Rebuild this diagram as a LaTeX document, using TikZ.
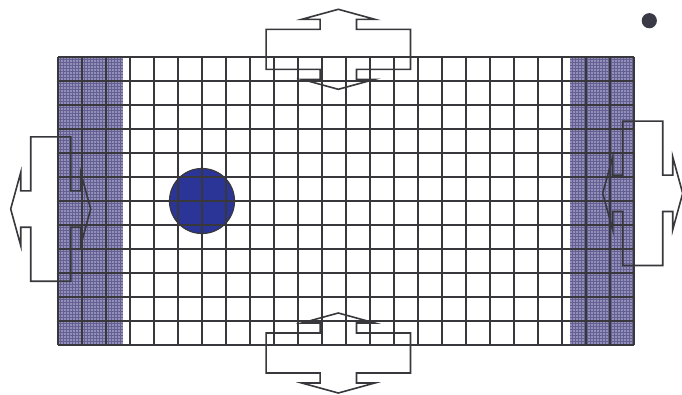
\documentclass[tikz,border=0pt]{standalone}
\definecolor{gridc}{RGB}{55,55,60}
\definecolor{shadefill}{RGB}{146,144,186}
\definecolor{hatchc}{RGB}{100,96,145}
\definecolor{ballc}{RGB}{43,53,151}
\definecolor{bulletc}{RGB}{58,58,70}
\tikzset{
  gridline/.style={draw=gridc, line width=1.5pt},
  arrowshape/.style={draw=gridc, line width=1.6pt, line join=miter},
  hatch/.style={draw=hatchc, line width=0.45pt},
}
\newcommand{\dblarrowpath}{%
  (0,-40) -- (36.5,-30) -- (18.2,-30) -- (18.2,-20) -- (72.2,-20) -- (72.2,20) --
  (18.2,20) -- (18.2,30) -- (36.5,30) -- (0,40) -- (-36.5,30) -- (-18.2,30) --
  (-18.2,20) -- (-72.2,20) -- (-72.2,-20) -- (-18.2,-20) -- (-18.2,-30) --
  (-36.5,-30) -- cycle}
\begin{document}
\begin{tikzpicture}[x=1pt,y=-1pt]
\useasboundingbox (0,0) rectangle (682,394);
% shaded side bands
\fill[shadefill] (58,57) rectangle (123,345);
\fill[shadefill] (570,57) rectangle (634,345);
\foreach \x in {60,63,...,122} \draw[hatch] (\x,57) -- (\x,345);
\foreach \x in {572,575,...,634} \draw[hatch] (\x,57) -- (\x,345);
\foreach \y in {59,62,...,345} {
  \draw[hatch] (58,\y) -- (123,\y);
  \draw[hatch] (570,\y) -- (634,\y);
}
% ball
\fill[ballc] (202,201) circle (32.5);
\draw[gridc, line width=1.2pt] (202,201) circle (32.5);
% grid
\foreach \i in {0,...,24} \draw[gridline] (58+24*\i,57) -- (58+24*\i,345);
\foreach \j in {0,...,12} \draw[gridline] (58,57+24*\j) -- (634,57+24*\j);
% double arrows
\begin{scope}[shift={(338.3,49.3)}]
  \draw[arrowshape] \dblarrowpath;
\end{scope}
\begin{scope}[shift={(338.3,353)}]
  \draw[arrowshape] \dblarrowpath;
\end{scope}
\begin{scope}[shift={(50.7,209)},rotate=90]
  \draw[arrowshape] \dblarrowpath;
\end{scope}
\begin{scope}[shift={(642.7,193.3)},rotate=90]
  \draw[arrowshape] \dblarrowpath;
\end{scope}
% bullet
\fill[bulletc] (649.3,20.7) circle (7.6);
\end{tikzpicture}
\end{document}
